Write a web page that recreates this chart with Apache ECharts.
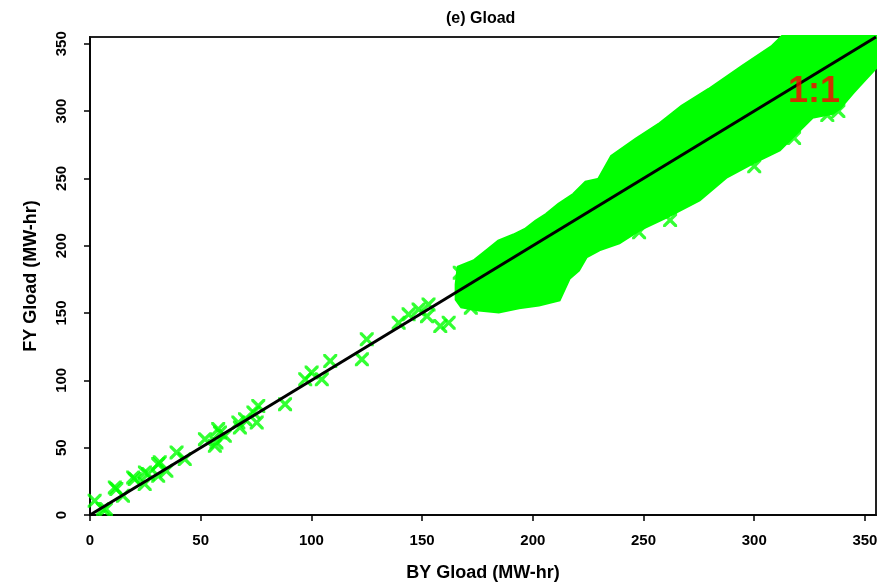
<!DOCTYPE html>
<html>
<head>
<meta charset="utf-8">
<script src="https://cdn.jsdelivr.net/npm/echarts@6/dist/echarts.min.js"></script>
<style>
  html, body { margin: 0; padding: 0; background: #fff; }
  #chart { width: 877px; height: 585px; }
</style>
</head>
<body>
<div id="chart"></div>
<script>
// Scattered BY vs FY Gload points (MW-hr)
const byGload = [2.1, 5.9, 7.2, 11.2, 11.9, 14.9, 19.5, 20.2, 24.7, 24.8, 26.2, 30.8, 30.8, 31.5, 34.5,
  39.1, 42.8, 51.9, 56.4, 57.1, 57.9, 58.7, 60.9, 67, 67.7, 70, 73.8, 75.3, 76, 88.1,
  97.2, 100.1, 104.7, 108.5, 122.8, 125, 139.4, 143.9, 148.4, 152.2, 152.9, 158.2, 162,
  167, 172, 248, 262, 300, 318, 333, 338];
const fyGload = [10.6, 4.4, 4.4, 20.5, 19.3, 14.3, 27.9, 26.7, 23, 31.6, 30.4, 37.8, 29.1, 39.1, 32.8,
  46.5, 41.5, 56.3, 51.4, 53.9, 63.8, 61.3, 58.8, 68.7, 65, 71.2, 76.1, 68.7, 81, 82.3,
  100.8, 105.8, 100.8, 114.4, 115.6, 130.5, 142.8, 149, 152.7, 147.7, 156.4, 140.3, 142.8,
  180, 154, 210, 219, 259, 280, 297, 300];

// Outline of the dense cloud of points (BY, FY)
const cloudX = [165.6, 166.5, 173.3, 180.1, 184.6, 191.4, 196.8, 201.4, 206.3, 211.8, 218.6, 224.0,
  229.9, 235.7, 246.6, 257.0, 267.4, 279.6, 294.6, 308.1, 312.7, 355, 355, 347.5, 344.3, 338.5,
  335.3, 326.2, 317.2, 311.3, 299.1, 287.3, 275.1, 260.2, 248.0, 238.9, 229.9, 224.0, 220.5,
  216.3, 211.8, 202.7, 193.7, 184.6, 175.6, 167.9, 165.6];
const cloudY = [171.2, 183.8, 188.3, 197.2, 203.1, 207.6, 212.0, 217.9, 223.1, 230.5, 238.0, 246.8,
  249.1, 266.1, 278.7, 289.8, 303.2, 315.8, 332.8, 347.7, 355, 355, 332.8, 319.5, 313.6, 302.4,
  298.7, 295.8, 281.0, 271.3, 261.7, 251.3, 234.2, 221.6, 212.0, 202.4, 197.2, 192.0, 182.0,
  176.0, 160.1, 156.4, 154.2, 151.2, 152.7, 154.9, 160.1];

// 1:1 reference line and its label
const oneToOne = [[0, 0], [355, 355]];
const labelPos = [327, 314];

const xTickStep = 50;
const axisMax = 355;

let chart = echarts.init(document.getElementById('chart'));

const fontFam = "'Liberation Sans', Arial, sans-serif";
const xMark = 'path://M0,0 L2,0 L6,4 L10,0 L12,0 L12,2 L8,6 L12,10 L12,12 L10,12 L6,8 L2,12 L0,12 L0,10 L4,6 L0,2 Z';

let option = {
    animation: false,
    backgroundColor: '#fff',
    title: {
        text: '(e) Gload',
        left: 441,
        top: 6,
        textStyle: { fontFamily: fontFam, fontWeight: 'bold', fontSize: 16, color: '#000' }
    },
    grid: {
        left: 90, right: 1, top: 37, bottom: 70,
        outerBoundsMode: 'none',
        show: true, borderColor: '#222', borderWidth: 2, backgroundColor: 'transparent'
    },
    xAxis: {
        type: 'value',
        min: 0, max: axisMax, interval: xTickStep,
        name: 'BY Gload (MW-hr)',
        nameLocation: 'middle',
        nameGap: 49,
        nameTextStyle: { fontFamily: fontFam, fontWeight: 'bold', fontSize: 18, color: '#000' },
        axisLine: { lineStyle: { color: '#000', width: 1.5 } },
        axisTick: { show: true, length: 6, lineStyle: { color: '#000', width: 1.5 } },
        axisLabel: { margin: 18, fontFamily: fontFam, fontWeight: 'bold', fontSize: 15, color: '#000', showMaxLabel: false },
        splitLine: { show: false }
    },
    yAxis: {
        type: 'value',
        min: 0, max: axisMax, interval: xTickStep,
        name: 'FY Gload (MW-hr)',
        nameLocation: 'middle',
        nameGap: 50,
        nameTextStyle: { fontFamily: fontFam, fontWeight: 'bold', fontSize: 18, color: '#000' },
        axisLine: { show: true, lineStyle: { color: '#000', width: 1.5 } },
        axisTick: { show: true, length: 6, lineStyle: { color: '#000', width: 1.5 } },
        axisLabel: { rotate: 90, margin: 21, fontFamily: fontFam, fontWeight: 'bold', fontSize: 15, color: '#000', showMaxLabel: false },
        splitLine: { show: false }
    },
    series: [
        {
            name: 'cloud',
            type: 'custom',
            data: [0],
            z: 1,
            renderItem: (params, api) => {
                let pts = cloudX.map((x, i) => api.coord([x, cloudY[i]]));
                return {
                    type: 'polygon',
                    shape: { points: pts },
                    style: { fill: '#00ff00', stroke: '#00ff00', lineWidth: 4 }
                };
            }
        },
        {
            name: 'points',
            type: 'scatter',
            z: 2,
            symbol: xMark,
            symbolSize: 14,
            itemStyle: { color: '#00ff00' },
            data: byGload.map((x, i) => [x, fyGload[i]])
        },
        {
            name: '1:1',
            type: 'line',
            z: 3,
            symbol: 'none',
            lineStyle: { color: '#000', width: 3 },
            data: oneToOne
        },
        {
            name: 'label',
            type: 'scatter',
            z: 4,
            symbolSize: 0,
            data: [labelPos],
            label: {
                show: true,
                position: 'inside',
                formatter: '1:1',
                fontFamily: fontFam,
                fontWeight: 'bold',
                fontSize: 36,
                color: '#ff0000'
            }
        }
    ]
};

chart.setOption(option);
</script>
</body>
</html>
